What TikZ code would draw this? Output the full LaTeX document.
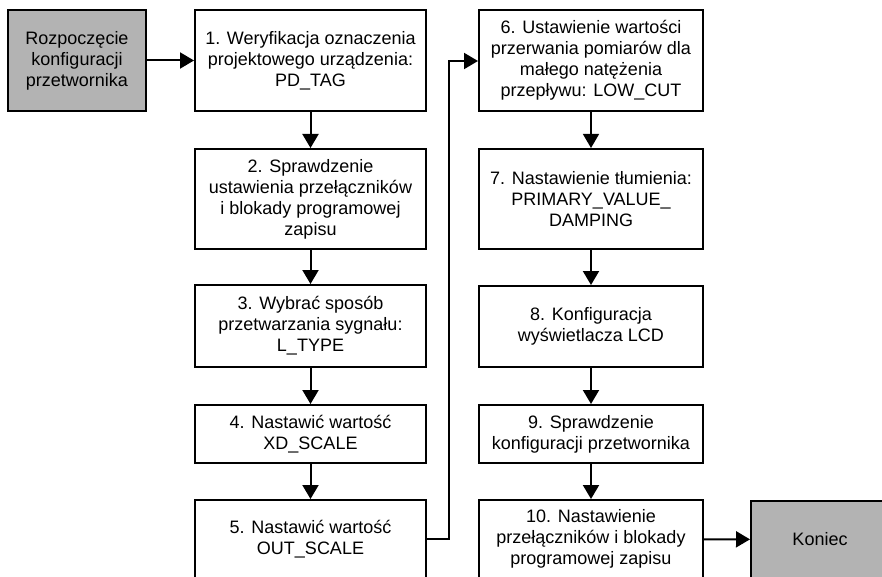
\documentclass[tikz,border=0pt]{standalone}
\usepackage{fontspec}
\setmainfont{Liberation Sans}
\usetikzlibrary{arrows.meta}
\definecolor{boxgray}{RGB}{179,179,179}
\tikzset{
  stepbox/.style={draw=black, line width=2pt, fill=white, align=center, inner sep=0pt,
    font=\fontsize{18}{21}\selectfont},
  graybox/.style={stepbox, fill=boxgray},
  conn/.style={line width=2pt, -{Triangle[length=14pt,width=16pt]}},
}
\begin{document}
\begin{tikzpicture}[x=1pt,y=-1pt]
\useasboundingbox (0,0) rectangle (882,577);
\clip (0,0) rectangle (882,577);
\fill[white] (0,0) rectangle (882,577);
% left column
\node[graybox, minimum width=138pt, minimum height=101pt] (start) at (77,60.5) {Rozpoczęcie\\konfiguracji\\przetwornika};
\node[stepbox, minimum width=231pt, minimum height=101pt] (b1) at (310.5,60.5) {1. Weryfikacja oznaczenia\\projektowego urządzenia:\\PD\_TAG};
\node[stepbox, minimum width=231pt, minimum height=100pt] (b2) at (310.5,199) {2. Sprawdzenie\\ustawienia przełączników\\i blokady programowej\\zapisu};
\node[stepbox, minimum width=231pt, minimum height=82pt] (b3) at (310.5,326) {3. Wybrać sposób\\przetwarzania sygnału:\\L\_TYPE};
\node[stepbox, minimum width=231pt, minimum height=58pt] (b4) at (310.5,434) {4. Nastawić wartość\\XD\_SCALE};
\node[stepbox, minimum width=231pt, minimum height=78pt] (b5) at (310.5,539) {5. Nastawić wartość\\OUT\_SCALE};
% right column
\node[stepbox, minimum width=224pt, minimum height=101pt] (b6) at (591,60.5) {6. Ustawienie wartości\\przerwania pomiarów dla\\małego natężenia\\przepływu: LOW\_CUT};
\node[stepbox, minimum width=224pt, minimum height=100pt] (b7) at (591,199) {7. Nastawienie tłumienia:\\PRIMARY\_VALUE\_\\DAMPING};
\node[stepbox, minimum width=224pt, minimum height=81pt] (b8) at (591,326.5) {8. Konfiguracja\\wyświetlacza LCD};
\node[stepbox, minimum width=224pt, minimum height=58pt] (b9) at (591,434) {9. Sprawdzenie\\konfiguracji przetwornika};
\node[stepbox, minimum width=224pt, minimum height=78pt] (b10) at (591,539) {10. Nastawienie\\przełączników i blokady\\programowej zapisu};
\node[graybox, minimum width=138pt, minimum height=78pt] (end) at (820,539.5) {Koniec};
% connectors
\draw[conn] (start) -- (b1);
\draw[conn] (b1) -- (b2);
\draw[conn] (b2) -- (b3);
\draw[conn] (b3) -- (b4);
\draw[conn] (b4) -- (b5);
\coordinate (up) at (449,539);
\coordinate (top) at (449,61);
\draw[conn] (b5.east |- up) -- (up) -- (top) -- (b6.west |- top);
\draw[conn, line width=1.3pt] (b6) -- (b7);
\draw[conn] (b7) -- (b8);
\draw[conn] (b8) -- (b9);
\draw[conn] (b9) -- (b10);
\draw[conn] (b10) -- (end);
\end{tikzpicture}
\end{document}
